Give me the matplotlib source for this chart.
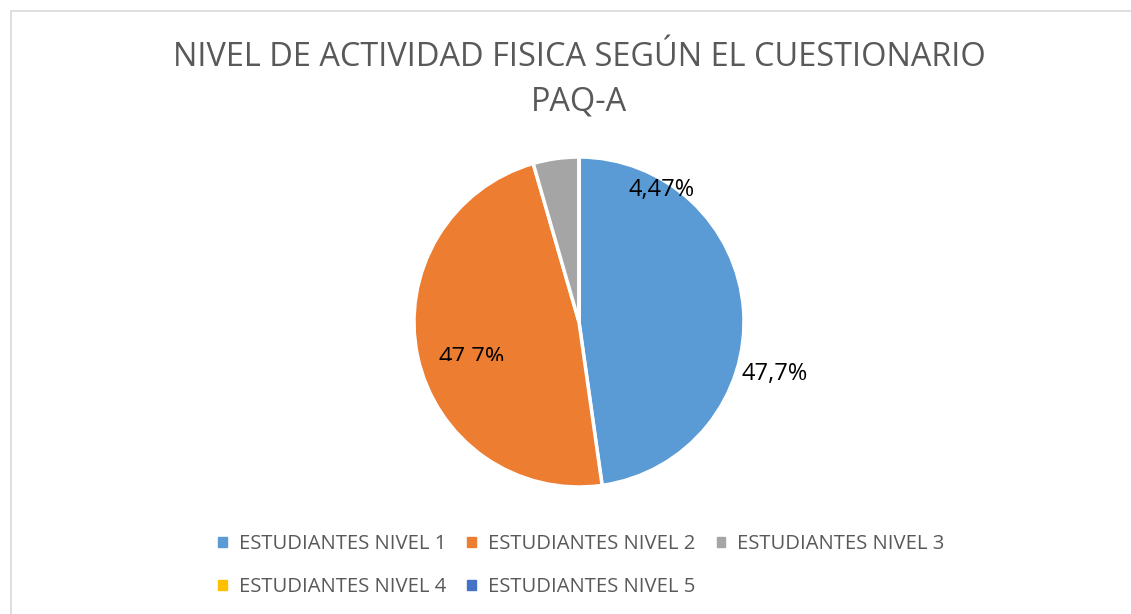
import matplotlib
matplotlib.use("Agg")
import matplotlib.pyplot as plt
from matplotlib.patches import Rectangle
from matplotlib.transforms import Bbox, TransformedBbox

# ─────────────────────────────────────────────
# DATA
# ─────────────────────────────────────────────
categories = ["ESTUDIANTES NIVEL 1", "ESTUDIANTES NIVEL 2", "ESTUDIANTES NIVEL 3",
              "ESTUDIANTES NIVEL 4", "ESTUDIANTES NIVEL 5"]
values = [47.7, 47.7, 4.47, 0.0, 0.0]
label_texts = ["47,7%", "47,7%", "4,47%"]
colors = ["#5B9BD5", "#ED7D31", "#A5A5A5", "#FFC000", "#4472C4"]

TEXT_GRAY = "#595959"
plt.rcParams["font.family"] = ["Open Sans", "DejaVu Sans"]

W, H = 1131, 614
fig = plt.figure(figsize=(W / 100, H / 100), dpi=100)

# chart frame (light gray border, cut by the screenshot on right / bottom)
fig.patches.append(Rectangle((11 / W, -0.1), 1.2, 1 - 11 / H + 0.1,
                             transform=fig.transFigure, fill=False,
                             edgecolor="#D9D9D9", linewidth=1.2))

# pie axes: centre (579, 322), radius 165 px
cx, cy, r = 579, 322, 165
ax = fig.add_axes([(cx - r) / W, (H - cy - r) / H, 2 * r / W, 2 * r / H])
wedges, _ = ax.pie(values, colors=colors, startangle=90, counterclock=False,
                   wedgeprops={"edgecolor": "white", "linewidth": 2.5})
ax.set_xlim(-1, 1)
ax.set_ylim(-1, 1)
ax.set_aspect("equal")
ax.axis("off")

# data labels (positions as in the original Excel chart)
def px(x, y):
    return x / W, 1 - y / H

lbl = dict(ha="center", va="center", fontsize=17, color="black")
fig.text(*px(662, 190), label_texts[2], **lbl)
fig.text(*px(775, 374), label_texts[0], **lbl)
t = fig.text(*px(472, 358), label_texts[1], **lbl)
# the orange label is cut off at its bottom in the original
t.set_clip_on(True)
t.set_clip_box(TransformedBbox(Bbox([[0, 1 - 361 / H], [1, 1]]), fig.transFigure))

# title
fig.text(579 / W, 1 - 57 / H, "NIVEL DE ACTIVIDAD FISICA SEGÚN EL CUESTIONARIO",
         ha="center", va="center", fontsize=23.4, color=TEXT_GRAY)
fig.text(579 / W, 1 - 102 / H, "PAQ-A", ha="center", va="center",
         fontsize=23.4, color=TEXT_GRAY)

# legend in row-major order (ncol fills column-major)
handles = [Rectangle((0, 0), 1, 1, color=c) for c in colors]
order = [0, 3, 1, 4, 2]
fig.legend([handles[i] for i in order], [categories[i] for i in order],
           ncol=3, loc="upper left", bbox_to_anchor=(218 / W, 1 - 534 / H),
           frameon=False, fontsize=14.6, labelcolor=TEXT_GRAY,
           handlelength=0.42, handleheight=0.42, handletextpad=0.6,
           columnspacing=1.05, labelspacing=1.15, borderpad=0, borderaxespad=0)

fig.savefig("out.png", dpi=100, facecolor="white")
